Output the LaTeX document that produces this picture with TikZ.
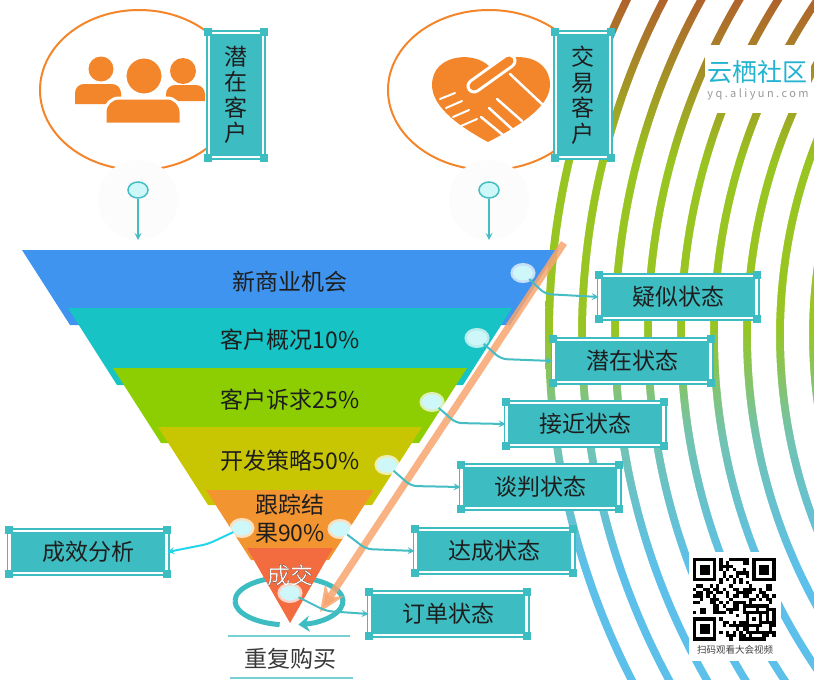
\documentclass[tikz,border=0pt]{standalone}
\usepackage{fontspec}
\setmainfont{Noto Sans CJK SC}
\newfontfamily\sitefont[LetterSpace=22]{Noto Sans CJK SC}
\usetikzlibrary{shapes.geometric,arrows.meta}

\definecolor{iconorange}{HTML}{F3862A}
\definecolor{tagteal}{HTML}{3DBDC2}
\definecolor{linkteal}{HTML}{45BDC4}
\definecolor{linkcyan}{HTML}{22D5EA}
\definecolor{dotcyan}{HTML}{CDF7F8}
\definecolor{textdark}{HTML}{1E1E1E}
\definecolor{layerblue}{HTML}{3E94EE}
\definecolor{layercyan}{HTML}{17C3C4}
\definecolor{layergreen}{HTML}{8CCE02}
\definecolor{layerolive}{HTML}{C8C603}
\definecolor{layerorange}{HTML}{F29530}
\definecolor{layerred}{HTML}{F36C40}
\definecolor{flowpeach}{HTML}{F7A56E}
\definecolor{ringblue}{HTML}{5CC0EA}
\definecolor{ringteal}{HTML}{72C3B0}
\definecolor{ringgreen}{HTML}{98C521}
\definecolor{ringbrown}{HTML}{B0632C}
\definecolor{logocyan}{HTML}{22B3D1}

\pgfdeclareverticalshading{ringshade}{100bp}{color(0bp)=(ringblue); color(33bp)=(ringblue);
  color(43bp)=(ringteal); color(51bp)=(ringgreen); color(63bp)=(ringgreen);
  color(75bp)=(ringbrown); color(100bp)=(ringbrown)}

% white letters with a dark rim
\newcommand\rimtext[1]{\special{pdf:literal direct 0.1 0.1 0.1 RG 0.1 w 2 Tr}#1\special{pdf:literal direct 0 Tr}}

\begin{document}
\begin{tikzpicture}[x=1pt,y=-1pt,>=stealth,
  stage/.style={font=\fontsize{23}{28}\selectfont, text=textdark, align=center},
  tagbox/.style={draw=tagteal, fill=tagteal, double=white, double distance=2.6pt, line width=1.7pt,
    minimum width=157pt, minimum height=42pt, inner sep=0pt, text=textdark,
    font=\fontsize{23}{25}\selectfont,
    append after command={\pgfextra{\let\tagnode\tikzlastnode}
      (\tagnode.north west) node[tabsq]{} (\tagnode.north east) node[tabsq]{}
      (\tagnode.south west) node[tabsq]{} (\tagnode.south east) node[tabsq]{}}},
  tabsq/.style={fill=tagteal, draw=none, minimum size=8pt, inner sep=0pt},
  link/.style={draw=linkteal, line width=2pt, rounded corners=6pt},
  glowdot/.style={ellipse, inner sep=0pt, minimum width=20pt, minimum height=15pt, fill=dotcyan,
    preaction={draw=white, draw opacity=.7, line width=5pt}},
  pinhead/.style={ellipse, inner sep=0pt, minimum width=20pt, minimum height=16pt, fill=dotcyan,
    draw=linkteal, line width=1.5pt},
  loopline/.style={draw=tagteal, line width=5pt},
  rule/.style={draw=tagteal!70, line width=2.5pt}]
\useasboundingbox (0,0) rectangle (814,680);
\fill[white] (0,0) rectangle (814,680);

% rings on the right
\coordinate (hub) at (1308,335);
\begin{scope}
  \clip (0,0) rectangle (814,680);
  \clip (hub) circle[radius=763];
  \shade[shading=ringshade] (530,0) rectangle (814,680);
  \foreach \r in {759,726,...,528}
    \draw[white, line width=25pt] (hub) circle[radius=\r-16.5];
  \fill[white] (hub) circle[radius=491];
\end{scope}

\fill[white] (705,45) rectangle (811,113);
\node[font=\fontsize{25}{26}\selectfont, text=logocyan] (logo) at (757,72) {云栖社区};
\node[font=\sitefont\fontsize{11}{12}\selectfont, text=black!40] (site) at (758,94) {yq.aliyun.com};

% qr code
\fill[white] (689,552) rectangle (781,661);
\pgfmathsetseed{2017}
\foreach \i in {0,...,24}{
  \foreach \j in {0,...,24}{
    \pgfmathrandominteger{\bit}{0}{1}
    \ifnum\bit=1 \fill ({693+3.3*\i},{558+3.3*\j}) rectangle ++(3.3,3.3);\fi
  }
}
\foreach \wx/\wy/\fx/\fy in {0/0/0/0,17/0/18/0,0/17/0/18}{
  \fill[white] ({693+3.3*\wx},{558+3.3*\wy}) rectangle ++(26.4,26.4);
  \fill ({693+3.3*\fx},{558+3.3*\fy}) rectangle ++(23.1,23.1);
  \fill[white] ({696.3+3.3*\fx},{561.3+3.3*\fy}) rectangle ++(16.5,16.5);
  \fill ({699.6+3.3*\fx},{564.6+3.3*\fy}) rectangle ++(9.9,9.9);
}
\fill ({693+3.3*16},{558+3.3*16}) rectangle ++(16.5,16.5);
\fill[white] ({693+3.3*17},{558+3.3*17}) rectangle ++(9.9,9.9);
\fill ({693+3.3*18},{558+3.3*18}) rectangle ++(3.3,3.3);
\node[font=\fontsize{9.5}{10}\selectfont, text=black!75] (qrnote) at (735,650) {扫码观看大会视频};

% customers
\draw[iconorange, line width=2pt] (139,90) ellipse[x radius=99, y radius=80];
\draw[iconorange, line width=2pt] (489,90) ellipse[x radius=101, y radius=80];
\fill[black!1] (138,200) circle[radius=40];
\fill[black!1] (489,200) circle[radius=40];

\fill[iconorange] (101,69) circle[radius=12.5];
\fill[iconorange] (75,104) -- (75,93) arc[start angle=180, end angle=270, radius=9]
  -- (112,84) arc[start angle=270, end angle=360, radius=9] -- (121,104) -- cycle;
\fill[iconorange] (183,71) circle[radius=13];
\fill[iconorange] (166,101) -- (166,94) arc[start angle=180, end angle=270, radius=9]
  -- (196,85) arc[start angle=270, end angle=360, radius=9] -- (205,101) -- cycle;
\filldraw[fill=iconorange, draw=white, line width=3pt] (144,76) circle[radius=19];
\filldraw[fill=iconorange, draw=white, line width=3pt] (105,124) -- (105,112)
  arc[start angle=180, end angle=270, radius=14] -- (167,98)
  arc[start angle=270, end angle=360, radius=14] -- (181,124) -- cycle;

\fill[iconorange] (492,70) .. controls (480,50) and (432,52) .. (432,85)
  .. controls (432,108) and (462,128) .. (488,142)
  .. controls (515,128) and (550,108) .. (550,85)
  .. controls (550,52) and (504,50) .. (492,70) -- cycle;
\draw[white, line width=15pt, line cap=round] (474,86) -- (509,61);
\draw[iconorange, line width=9pt, line cap=round] (474,86) -- (509,61);
\draw[white, line width=2.5pt, line cap=round] (510,74) -- (542,104);
\draw[white, line width=2.5pt, line cap=round] (497,99) -- (522,121) (489,108) -- (512,129)
  (481,117) -- (503,135);
\draw[white, line width=2pt, line cap=round] (440,99) -- (455,93) (446,108) -- (462,101)
  (453,117) -- (469,110) (461,126) -- (477,119);

\node[tagbox, minimum width=54pt, minimum height=124pt, font=\fontsize{23}{25.5}\selectfont,
  align=center] (lead) at (236,95) {潜\\在\\客\\户};
\node[tagbox, minimum width=54pt, minimum height=124pt, font=\fontsize{23}{25.5}\selectfont,
  align=center] (buyer) at (583,95) {交\\易\\客\\户};

\node[pinhead] (p1) at (138,190) {};
\node[pinhead] (p2) at (489,190) {};
\coordinate (p1foot) at (138,240);
\coordinate (p2foot) at (489,240);
\draw[link,->] (p1) -- (p1foot);
\draw[link,->] (p2) -- (p2foot);

% funnel
\coordinate (loop) at (289,601);
\fill[layerblue] (22,250) -- (558,250) -- (510,325) -- (70,325) -- cycle;
\fill[layercyan] (68,308) -- (512,308) -- (463,385) -- (117,385) -- cycle;
\fill[layergreen] (113,368) -- (467,368) -- (419,443) -- (161,443) -- cycle;
\fill[layerolive] (158,427) -- (422,427) -- (372,505) -- (208,505) -- cycle;
\fill[layerorange] (206,490) -- (374,490) -- (329,560) -- (251,560) -- cycle;
\draw[loopline] ([shift={(180:54 and 24)}]loop) arc[start angle=180, end angle=360, x radius=54, y radius=24];
\fill[layerred] (247,548) -- (333,548) -- (290,623) -- cycle;
\draw[loopline] ([shift={(100:54 and 24)}]loop) arc[start angle=100, end angle=180, x radius=54, y radius=24];
\draw[loopline, -{Stealth[length=11pt,width=16pt]}] ([shift={(-4:54 and 24)}]loop)
  arc[start angle=-4, end angle=80, x radius=54, y radius=24];

\coordinate (flowtop) at (564,243);
\coordinate (flowtip) at (320,612);
\draw[flowpeach, opacity=.85, line width=7pt, -{Stealth[length=26pt,width=22pt]}] (flowtop) -- (flowtip);

\node[stage] (s1) at (290,282) {新商业机会};
\node[stage] (s2) at (290,340) {客户概况10\%};
\node[stage] (s3) at (290,400) {客户诉求25\%};
\node[stage] (s4) at (290,461) {开发策略50\%};
\node[stage] (s5) at (290,519) {跟踪结\\果90\%};
\node[stage, text=white] (deal) at (290,575) {\rimtext{成交}};

% states
\node[glowdot] (d1) at (523,273) {};
\node[glowdot] (d2) at (477,338) {};
\node[glowdot] (d3) at (432,402) {};
\node[glowdot] (d4) at (387,465) {};
\node[glowdot] (d5) at (340,529) {};
\node[glowdot] (d6) at (242,528) {};
\node[glowdot] (d7) at (290,593) {};

\node[tagbox] (b1) at (678,297) {疑似状态};
\node[tagbox] (b2) at (632,361) {潜在状态};
\node[tagbox] (b3) at (585,424) {接近状态};
\node[tagbox] (b4) at (540,487) {谈判状态};
\node[tagbox] (b5) at (494,551) {达成状态};
\node[tagbox] (b6) at (448,614) {订单状态};
\node[tagbox] (b7) at (88,552) {成效分析};

\draw[link,->] (d1) -- ++(22,21) -- (b1.west);
\draw[link,->] (d2) -- ++(24,21) -- (b2.west);
\draw[link,->] (d3) -- ++(24,21) -- (b3.west);
\draw[link,->] (d4) -- ++(24,21) -- (b4.west);
\draw[link,->] (d5) -- ++(26,20) -- (b5.west);
\draw[link,->] (d7) -- ++(36,18) -- (b6.west);
\draw[link,draw=linkcyan,->] (d6) -- ++(-34,16) -- (b7.east);

% repeat purchase
\draw[rule] (228,636) -- (350,636);
\node[stage, text=black!78] (again) at (290,659) {重复购买};
\draw[rule] (230,678) -- (353,678);
\end{tikzpicture}
\end{document}
